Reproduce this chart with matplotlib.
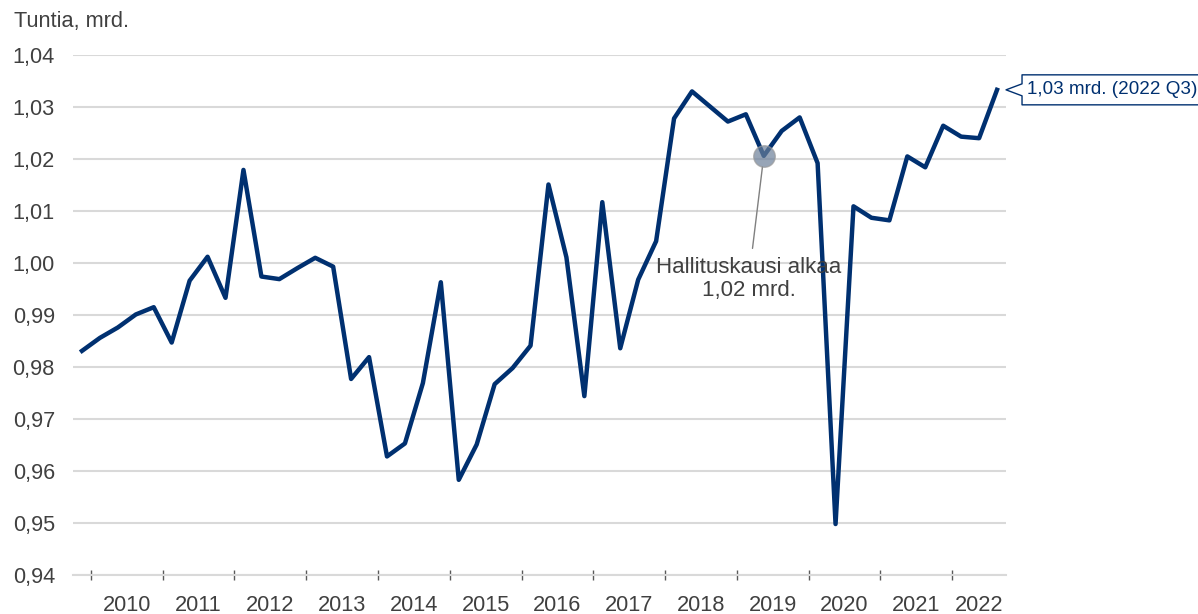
import numpy as np
import matplotlib
matplotlib.use("Agg")
import matplotlib.pyplot as plt
from matplotlib.patches import Polygon
from matplotlib.lines import Line2D
from matplotlib.ticker import FuncFormatter
from matplotlib.transforms import IdentityTransform

plt.rcParams['font.family'] = ['Liberation Sans', 'DejaVu Sans']

# Quarterly hours worked (billions), 2009 Q4 .. 2022 Q3
values = [
    0.9831,
    0.9856, 0.9876, 0.9901, 0.9915,   # 2010
    0.9847, 0.9966, 1.0012, 0.9933,   # 2011
    1.0179, 0.9974, 0.9969, 0.9990,   # 2012
    1.0010, 0.9993, 0.9777, 0.9819,   # 2013
    0.9628, 0.9653, 0.9769, 0.9963,   # 2014
    0.9583, 0.9651, 0.9767, 0.9798,   # 2015
    0.9841, 1.0151, 1.0011, 0.9744,   # 2016
    1.0117, 0.9836, 0.9968, 1.0042,   # 2017
    1.0278, 1.0330, 1.0301, 1.0272,   # 2018
    1.0286, 1.0206, 1.0254, 1.0280,   # 2019
    1.0192, 0.9498, 1.0109, 1.0087,   # 2020
    1.0082, 1.0205, 1.0184, 1.0264,   # 2021
    1.0243, 1.0240, 1.0333,           # 2022
]
start_year, start_q = 2009, 4
years = list(range(2010, 2023))
gov_start = "2019 Q2"
y_ticks = [0.94, 0.95, 0.96, 0.97, 0.98, 0.99, 1.00, 1.01, 1.02, 1.03, 1.04]

quarters = []
yy, qq = start_year, start_q
for _ in values:
    quarters.append((yy, qq))
    qq += 1
    if qq > 4:
        yy, qq = yy + 1, 1
labels = [f"{a} Q{b}" for a, b in quarters]

navy = '#003070'
grey_txt = '#404040'
grid_col = '#d9d9d9'


def fi(v, _=None):
    return f"{v:.2f}".replace('.', ',')


fig = plt.figure(figsize=(11.98, 6.14), dpi=100)
ax = fig.add_axes([73 / 1198, 1 - 575 / 614, (1006 - 73) / 1198, (575 - 55) / 614])

x = np.arange(len(values))
ax.plot(x, values, color=navy, lw=3.2, zorder=3)

ax.set_xlim(-0.5, len(values) - 0.5)
ax.set_ylim(y_ticks[0], y_ticks[-1])
ax.set_yticks(y_ticks)
ax.yaxis.set_major_formatter(FuncFormatter(fi))
ax.grid(axis='y', color=grid_col, lw=1.5, zorder=0)
ax.tick_params(axis='y', length=0, pad=13, labelsize=15.7, labelcolor=grey_txt)

# year boundaries as ticks, year names centred over their quarters
bounds = [i - 0.5 for i, (a, b) in enumerate(quarters) if b == 1]
centers = [np.mean([i for i, (a, b) in enumerate(quarters) if a == yr]) for yr in years]
ax.set_xticks(bounds)
ax.set_xticklabels([''] * len(bounds))
ax.set_xticks(centers, minor=True)
ax.set_xticklabels([str(y) for y in years], minor=True)
ax.tick_params(axis='x', which='major', direction='inout', length=7, width=1, color='#595959')
ax.tick_params(axis='x', which='minor', length=0, pad=14.5, labelsize=15.7, labelcolor=grey_txt)

for s in ['top', 'right', 'left']:
    ax.spines[s].set_visible(False)
ax.spines['bottom'].set_color(grid_col)
ax.spines['bottom'].set_linewidth(1.5)

fig.text(14 / 1198, 1 - 27 / 614, "Tuntia, mrd.", fontsize=15.7, color=grey_txt, va='baseline')

# government term start marker
gi = labels.index(gov_start)
ax.plot(gi, values[gi], 'o', ms=15.5, mfc='#6b7f99', mec='#9a9a9a', mew=1, alpha=0.7, zorder=4)
ax.annotate(f"Hallituskausi alkaa\n{fi(values[gi])} mrd.", xy=(gi, values[gi]),
            xytext=(-15, -123), textcoords='offset pixels', ha='center', va='center',
            fontsize=16, color=grey_txt, linespacing=1.15,
            arrowprops=dict(arrowstyle='-', color='#808080', lw=1, shrinkA=4, shrinkB=8))

# callout for the latest value (box runs off the right edge)
px, py = ax.transData.transform((x[-1], values[-1]))
tx = px + 9
far = 1400
pts = [(far, py + 15), (tx + 16, py + 15), (tx + 16, py + 6), (tx, py),
       (tx + 16, py - 6), (tx + 16, py - 15), (far, py - 15)]
fig.add_artist(Polygon(pts, closed=True, facecolor='white', edgecolor='none',
                       transform=IdentityTransform(), clip_on=False, zorder=5))
fig.add_artist(Line2D([p[0] for p in pts], [p[1] for p in pts], color=navy, lw=1,
                      transform=IdentityTransform(), clip_on=False, zorder=5.5))
fig.text(tx + 21, py, f"{fi(values[-1])} mrd. ({labels[-1]})", transform=IdentityTransform(),
         ha='left', va='center', fontsize=13.6, color=navy, zorder=6)

fig.savefig('out.png', dpi=100)
